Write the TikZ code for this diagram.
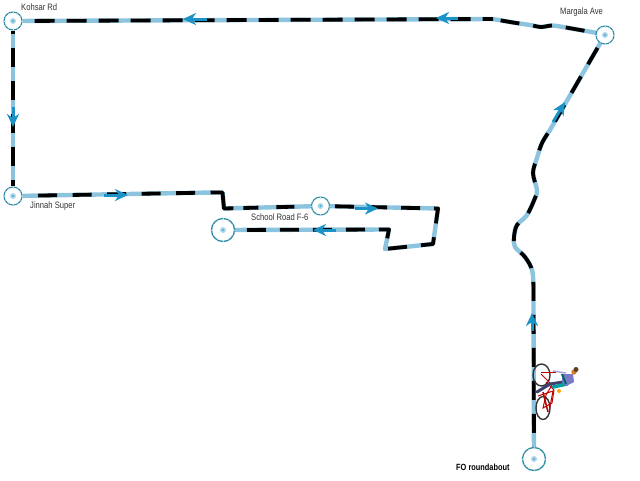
\documentclass[tikz,border=0pt]{standalone}
\usepackage{fontspec}
\setmainfont{Liberation Sans}
\newfontfamily\narrowlab[FakeStretch=0.82]{Liberation Sans}
\usetikzlibrary{backgrounds,arrows.meta}
\definecolor{routeblue}{HTML}{8CC4E0}
\definecolor{arrowblue}{HTML}{1B93C6}
\definecolor{wheelteal}{HTML}{2E8CA3}
\tikzset{
  stop/.style={circle,draw=wheelteal,line width=1.1pt,fill=white,inner sep=0pt,minimum size=18pt},
  bigstop/.style={stop,minimum size=23pt,line width=1.3pt},
  lab/.style={font=\narrowlab\fontsize{9.3}{10}\selectfont,text=black!80,inner sep=0pt},
  routebase/.style={draw=routeblue,line width=4.4pt,line join=round},
  routedash/.style={draw=black,line width=3.8pt,line join=round},
  dashA/.style={dash pattern=on 19pt off 14pt,dash phase=#1},
  dashB/.style={dash pattern=on 20pt off 12pt,dash phase=#1},
  dashC/.style={dash pattern=on 19pt off 15.5pt,dash phase=#1},
  dashD/.style={dash pattern=on 35pt off 10pt on 15pt off 18pt on 18pt off 30pt},
  flow/.style={draw=arrowblue,line width=3pt,-{Stealth[length=13pt,width=12pt,inset=4pt]}},
  frame/.style={draw=red!75!black,line width=1pt},
  tyre/.style={draw=black!80,line width=1.4pt}
}
\newcommand{\spokes}[2]{%
  \foreach \a in {0,30,...,330}{\draw[routeblue!60,line width=0.25pt] (#1) -- ++(\a:#2);}
  \fill[routeblue!70] (#1) circle (3pt);
  \fill[arrowblue!80] (#1) circle (1.1pt);}
\newcommand{\leg}[2]{\path[routebase] #2; \path[routedash,#1] #2;}
\begin{document}
\begin{tikzpicture}[x=1pt,y=-1pt]
\useasboundingbox (0,0) rectangle (640,480);
\node[bigstop] (fo) at (534,459) {};
\node[stop] (margala) at (605,35) {};
\node[stop] (kohsar) at (13,21) {};
\node[stop] (jinnah) at (13,196) {};
\node[stop] (school) at (320.5,206) {};
\node[bigstop] (schoolend) at (223,230) {};
\coordinate (topbend) at (493,19);
\coordinate (kink) at (213,192.5);
\spokes{fo}{10}\spokes{margala}{7.5}\spokes{kohsar}{7.5}\spokes{jinnah}{7.5}\spokes{school}{7.5}\spokes{schoolend}{10}
\node[lab,anchor=west] at (21,7) {Kohsar Rd};
\node[lab,anchor=west] at (560,12) {Margala Ave};
\node[lab,anchor=west] at (30,206) {Jinnah Super};
\node[lab,anchor=west] at (251,217) {School Road F-6};
\node[lab,anchor=west,text=black,font=\narrowlab\bfseries\fontsize{9}{10}\selectfont] at (456,467) {FO roundabout};
\begin{scope}[on background layer]
\leg{dashA=19pt}{(fo) -- (533.5,300) -- plot[smooth,tension=0.55] coordinates {(533.5,300) (532.5,272) (525,257) (515,247) (514,237) (517,225) (527,215) (535,198) (537,190) (533,173) (537,158) (542,143) (550,130)} -- (margala)}
\leg{dashA=19pt}{(margala) -- (597,33) -- plot[smooth,tension=0.5] coordinates {(597,33) (563,27) (552,25.5) (541,27) (530,25) (513,22.5) (493,19)}}
\leg{dashB=20pt}{(kohsar) -- (topbend)}
\leg{dashA=16pt}{(kohsar) -- (jinnah)}
\leg{dashC=19pt}{(jinnah) -- (kink)}
\leg{dashD}{(kink) -- (222.5,192.5) -- (224,208.5) -- (school)}
\leg{dashA=28pt}{(school) -- (438,208.5) -- (433,244) -- (385,249) -- (389,229.5) -- (schoolend)}
\end{scope}
\draw[flow] (532,331) -- (532,313);
\draw[flow] (553,122) -- (565,102);
\draw[flow] (458,18) -- (436,18);
\draw[flow] (207,19) -- (183,19);
\draw[flow] (13,107) -- (13,127);
\draw[flow] (104,195) -- (128,195);
\draw[flow] (355,208.5) -- (378,208.5);
\draw[flow] (336,230) -- (313,230);
% cyclist
\draw[tyre] (541.5,375) ellipse (8.5pt and 11pt);
\draw[tyre] (543,408) ellipse (7pt and 11.5pt);
\draw[frame] (541,374) -- (552,385) -- (546,395) -- (543,408) -- (552,403) -- (554,390) -- (546,382);
\draw[frame] (538,396) -- (553,391) -- (549,412);
\draw[frame] (541,372) -- (556,372);
\draw[frame,line width=1.5pt] (543,392) -- (548,412);
\fill[orange!70!yellow] (559,391) circle (2pt);
\draw[draw=blue!25!black!75,line width=3pt,line cap=round] (563,382) -- (550,384) -- (537,392);
\draw[draw=teal!75!cyan,line width=3.5pt,line cap=round] (553,387) -- (567,384);
\fill[gray!60!blue!75] (562,374) -- (573,374) -- (574,382) -- (566,386) -- (562,382) -- cycle;
\draw[draw=teal!80!black,line width=2pt] (562,374) -- (566,384);
\draw[draw=gray!60!blue!50,line width=1.5pt] (566,373) -- (553,371);
\fill[brown!70!orange] (574,372) circle (2.7pt);
\fill[brown!50!black] (576,369.5) circle (2.5pt);
\end{tikzpicture}
\end{document}
